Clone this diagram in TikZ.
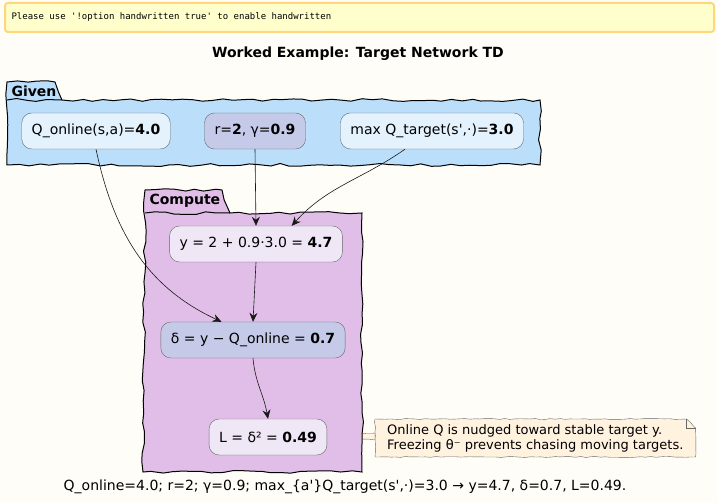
\documentclass[tikz,border=0pt]{standalone}
\usepackage{fontspec}
\setmainfont{DejaVu Sans}[Ligatures=TeXOff]
\newfontfamily\monofont{DejaVu Sans Mono}
\usetikzlibrary{arrows.meta,decorations.pathmorphing}
\pgfdeclarelayer{background}
\pgfsetlayers{background,main}
\definecolor{paper}{HTML}{FEFDF7}
\definecolor{warnfill}{HTML}{FFFFCC}
\definecolor{warnline}{HTML}{FFD77A}
\definecolor{givenfill}{HTML}{BBDEFB}
\definecolor{computefill}{HTML}{E1BEE7}
\definecolor{skyfill}{HTML}{E3F2FD}
\definecolor{indigofill}{HTML}{C5CAE9}
\definecolor{lilacfill}{HTML}{EFE7F6}
\definecolor{notefill}{HTML}{FFF3E0}
\tikzset{
  sketchy/.style={decorate,decoration={random steps,segment length=5pt,amplitude=0.5pt}},
  box/.style={draw=black!60, thin, rounded corners=10pt, minimum height=36pt,
    inner xsep=10pt, font=\fontsize{14}{16}\selectfont},
  pkg/.style={draw=black, line width=1pt, decorate,
    decoration={random steps,segment length=10pt,amplitude=1.5pt}},
  pkglabel/.style={anchor=west, font=\bfseries\fontsize{14}{16}\selectfont},
  flow/.style={-{Stealth[length=9pt,width=8pt,inset=3pt]}, black!90, line width=0.6pt},
  notebox/.style={draw=black!60, thin, fill=notefill, sketchy},
}
\begin{document}
\begin{tikzpicture}[x=1pt,y=1pt]
  \pgfmathsetseed{11}
  \useasboundingbox (0,0) rectangle (717,503);
  \begin{pgfonlayer}{background}
    \fill[paper] (0,0) rectangle (717,503);
  \end{pgfonlayer}
  % header
  \draw[draw=warnline, fill=warnfill, line width=2pt, rounded corners=3pt] (5,471) rectangle (714,500);
  \node[anchor=west, font=\monofont\fontsize{9}{11}\selectfont] (warn) at (8,486)
    {Please use '!option handwritten true' to enable handwritten};
  \node[font=\bfseries\fontsize{14}{16}\selectfont] (title) at (358,449) {Worked Example: Target Network TD};
  % packages
  \draw[pkg, fill=givenfill] (7,338) -- (7,421) -- (55,421) -- (62,403) -- (540,403) -- (540,338) -- cycle;
  \draw[pkg] (7,403) -- (62,403);
  \node[pkglabel] (given) at (8,412) {Given};
  \draw[pkg, fill=computefill] (143,31) -- (145,313) -- (222,313) -- (230,290) -- (362,290) -- (362,31) -- cycle;
  \draw[pkg] (145,290) -- (230,290);
  \node[pkglabel] (compute) at (146,302) {Compute};
  % nodes
  \node[box, fill=skyfill] (qon) at (96,372) {Q\_online(s,a)=\textbf{4.0}};
  \node[box, fill=indigofill] (rg) at (255,372) {r=\textbf{2}, γ=\textbf{0.9}};
  \node[box, fill=skyfill] (qtg) at (432,372) {max Q\_target(s',·)=\textbf{3.0}};
  \node[box, fill=lilacfill] (yt) at (256,259) {y = 2 + 0.9·3.0 = \textbf{4.7}};
  \node[box, fill=indigofill] (td) at (253,163) {δ = y − Q\_online = \textbf{0.7}};
  \node[box, fill=lilacfill] (loss) at (268,66) {L = δ² = \textbf{0.49}};
  % connectors
  \draw[flow] (qon.south) to[out=-78,in=155] (td.150);
  \draw[flow] (rg.south) -- (yt.north);
  \draw[flow] (qtg.214) to[out=-145,in=48] (yt.27);
  \draw[flow] (yt.south) -- (td.north);
  \draw[flow] (td.south) to[out=-85,in=100] (loss.north);
  % note
  \node[align=left, anchor=west, inner xsep=12pt, inner ysep=5pt, font=\fontsize{13}{15}\selectfont] (nt) at (375,65)
    {Online Q is nudged toward stable target y.\\Freezing θ⁻ prevents chasing moving targets.};
  \begin{pgfonlayer}{background}
    \draw[notebox] (loss.east) -- ([yshift=5pt]nt.west) -- ([yshift=-2pt]nt.west) -- cycle;
    \draw[notebox] (nt.south west) -- (nt.north west) -- ([xshift=-9pt]nt.north east)
      -- ([yshift=-9pt]nt.north east) -- (nt.south east) -- cycle;
    \draw[draw=black!60, thin] ([xshift=-9pt]nt.north east) -- ([xshift=-9pt,yshift=-9pt]nt.north east)
      -- ([yshift=-9pt]nt.north east);
  \end{pgfonlayer}
  \node[font=\fontsize{14}{16}\selectfont] (cap) at (345,16)
    {Q\_online=4.0; r=2; γ=0.9; max\_\{a'\}Q\_target(s',·)=3.0 → y=4.7, δ=0.7, L=0.49.};
\end{tikzpicture}
\end{document}
